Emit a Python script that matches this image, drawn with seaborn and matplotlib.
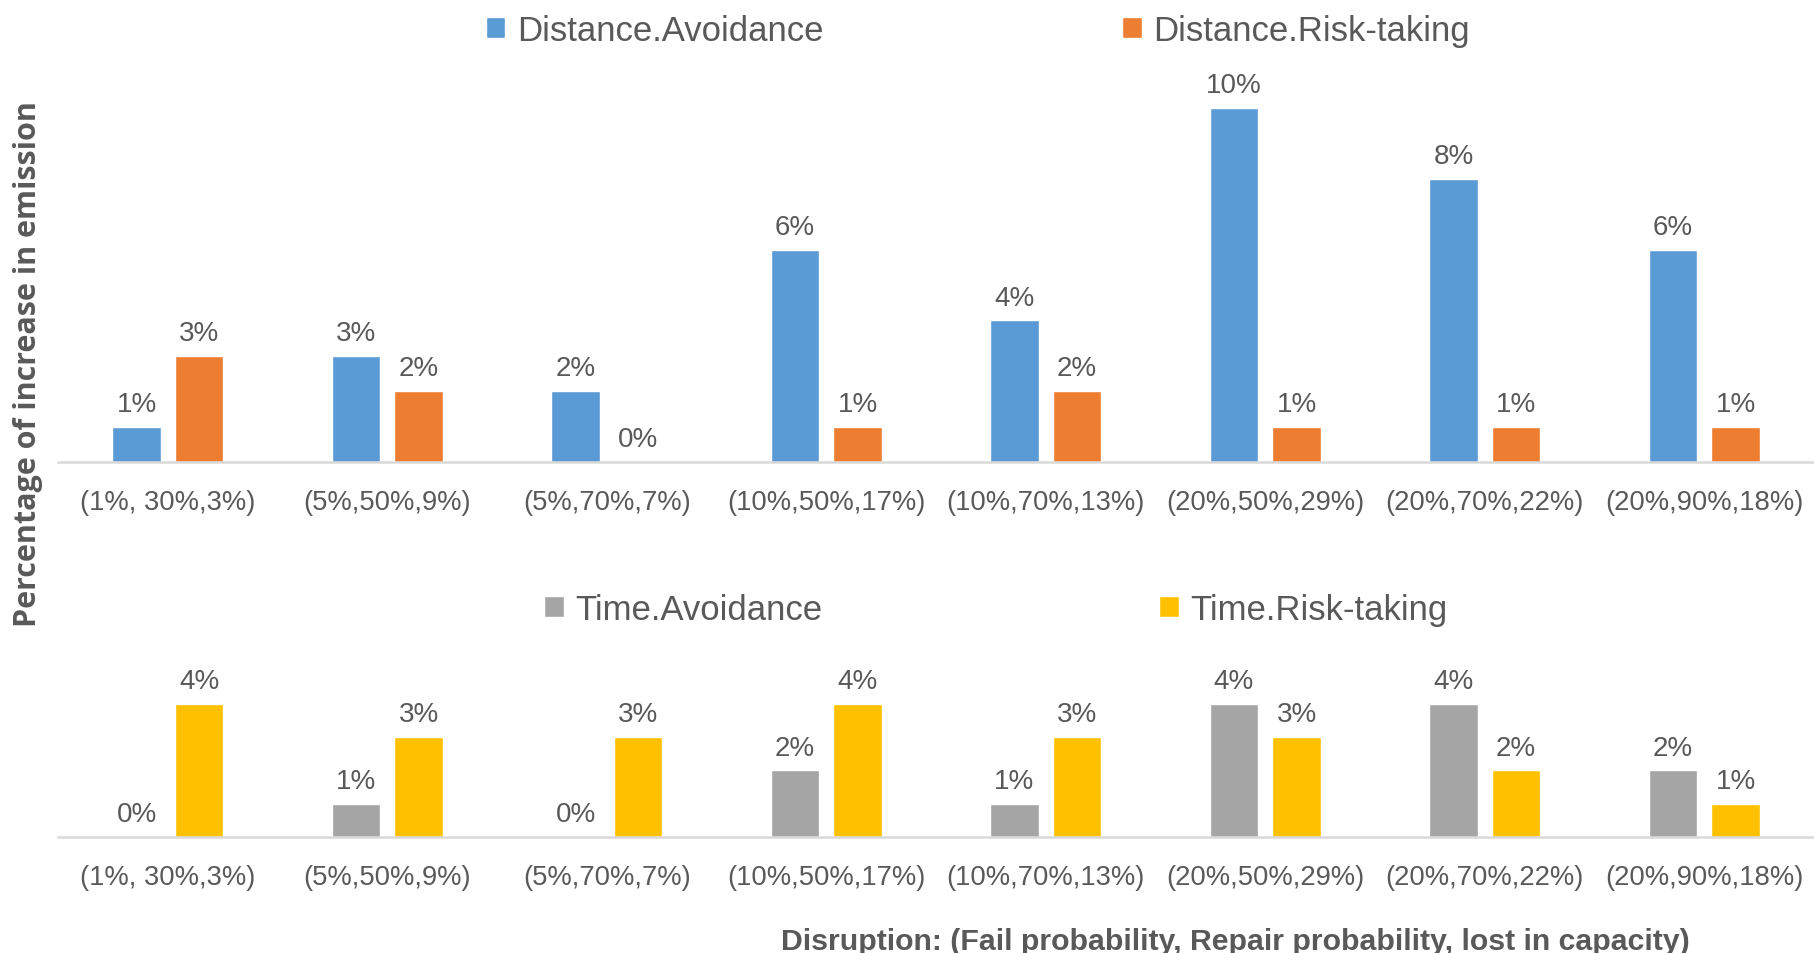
import numpy as np
import pandas as pd
import matplotlib
matplotlib.use("Agg")
import matplotlib.pyplot as plt
import seaborn as sns

categories = ["(1%, 30%,3%)", "(5%,50%,9%)", "(5%,70%,7%)", "(10%,50%,17%)",
              "(10%,70%,13%)", "(20%,50%,29%)", "(20%,70%,22%)", "(20%,90%,18%)"]
dist_avoid = [1, 3, 2, 6, 4, 10, 8, 6]
dist_risk = [3, 2, 0, 1, 2, 1, 1, 1]
time_avoid = [0, 1, 0, 2, 1, 4, 4, 2]
time_risk = [4, 3, 3, 4, 3, 3, 2, 1]

top_series = ["Distance.Avoidance", "Distance.Risk-taking"]
bot_series = ["Time.Avoidance", "Time.Risk-taking"]
top_colors = ["#5B9BD5", "#ED7D31"]
bot_colors = ["#A5A5A5", "#FFC000"]

sns.set_theme(style="white")
plt.rcParams["font.family"] = ["Liberation Sans", "DejaVu Sans"]
TXT = "#595959"

def long_df(names, a, b):
    return pd.DataFrame({
        "cat": categories * 2,
        "series": [names[0]] * len(categories) + [names[1]] * len(categories),
        "val": list(a) + list(b),
    })

fig = plt.figure(figsize=(18.14, 9.54), dpi=100)
ax1 = fig.add_axes([0.032, 0.5147, 0.968, 0.408])
ax2 = fig.add_axes([0.032, 0.1216, 0.968, 0.1677])

def draw(ax, df, names, colors, ymax, leg_x, leg_y, colspace):
    sns.barplot(data=df, x="cat", y="val", hue="series", hue_order=names,
                palette=colors, width=0.57, gap=0.22, ax=ax, saturation=1,
                order=categories, errorbar=None)
    for cont in ax.containers:
        vals = [b.get_height() for b in cont]
        ax.bar_label(cont, labels=[f"{int(round(v))}%" for v in vals],
                     padding=7, fontsize=20, color=TXT)
    ax.set_xlim(-0.5, 7.5)
    ax.set_ylim(0, ymax)
    ax.set_xlabel("")
    ax.set_ylabel("")
    ax.set_yticks([])
    for s in ["top", "right", "left"]:
        ax.spines[s].set_visible(False)
    ax.spines["bottom"].set_color("#D9D9D9")
    ax.spines["bottom"].set_linewidth(1.8)
    ax.tick_params(axis="x", length=0, pad=19.5, labelsize=19.7, labelcolor=TXT)
    handles, labels = ax.get_legend_handles_labels()
    if ax.legend_:
        ax.legend_.remove()
    fig.legend(handles, labels, loc="center", bbox_to_anchor=(leg_x, leg_y),
               ncol=2, frameon=False, fontsize=25, labelcolor=TXT,
               handlelength=0.57, handleheight=0.57, handletextpad=0.33,
               columnspacing=colspace)

draw(ax1, long_df(top_series, dist_avoid, dist_risk), top_series, top_colors,
     11, 0.539, 0.967, 8.6)
draw(ax2, long_df(bot_series, time_avoid, time_risk), bot_series, bot_colors,
     4.8, 0.549, 0.360, 9.7)

fig.text(0.0155, 0.618, "Percentage of increase in emission", rotation=90,
         ha="center", va="center", fontsize=22, fontweight="bold", color=TXT,
         family=["Open Sans", "DejaVu Sans"])
fig.text(0.681, 0.0122,
         "Disruption: (Fail probability, Repair probability, lost in capacity)",
         ha="center", va="center", fontsize=21.8, fontweight="bold", color=TXT)

fig.savefig("out.png", dpi=100)
